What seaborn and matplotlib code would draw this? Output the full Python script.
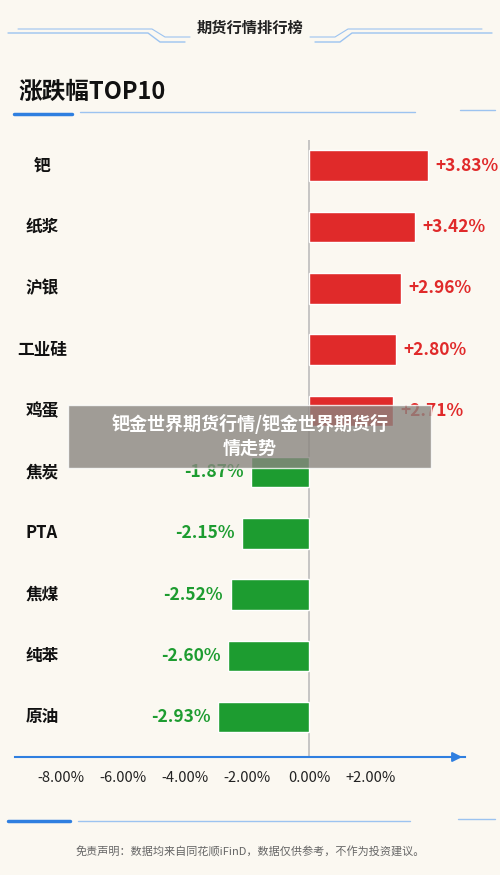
import matplotlib
matplotlib.use("Agg")
import matplotlib.pyplot as plt
import matplotlib.transforms as mt
import seaborn as sns
import pandas as pd

categories = ["钯", "纸浆", "沪银", "工业硅", "鸡蛋", "焦炭", "PTA", "焦煤", "纯苯", "原油"]
values = [3.83, 3.42, 2.96, 2.80, 2.71, -1.87, -2.15, -2.52, -2.60, -2.93]
tick_vals = [-8, -6, -4, -2, 0, 2]
tick_labels = ["-8.00%", "-6.00%", "-4.00%", "-2.00%", "0.00%", "+2.00%"]

sns.set_theme(style="white")
plt.rcParams['font.family'] = ['Noto Sans CJK SC', 'DejaVu Sans']
BG = "#fbf8f1"
RED = "#e02a2a"
GREEN = "#1d9c30"
BLUE = "#2f7fe0"

fig = plt.figure(figsize=(5, 8.75), dpi=100, facecolor=BG)
ax = fig.add_axes([15/500, (875-757)/875, 450/500, (757-140)/875])
ax.set_facecolor(BG)

df = pd.DataFrame({"cat": categories, "val": values})
df["sign"] = ["pos" if v > 0 else "neg" for v in values]
sns.barplot(data=df, y="cat", x="val", hue="sign", palette={"pos": RED, "neg": GREEN},
            orient="h", width=0.5, dodge=False, legend=False, ax=ax, saturation=1)

ax.set_xlim(-9.48, 5.03)
ax.set_ylim(9.65, -0.42)
ax.set_xlabel(""); ax.set_ylabel("")
ax.set_yticks([])
ax.set_xticks(tick_vals)
ax.set_xticklabels(tick_labels, fontsize=10.5, color="#222222")
ax.tick_params(axis="x", length=5, width=1.2, color=BLUE, direction="in", pad=10)
for s in ["top", "right", "left"]:
    ax.spines[s].set_visible(False)
ax.spines["bottom"].set_color(BLUE)
ax.spines["bottom"].set_linewidth(1.5)
ax.annotate("", xy=(1.0, 0), xytext=(0.97, 0), xycoords="axes fraction",
            arrowprops=dict(arrowstyle="-|>", color=BLUE, lw=1.5, mutation_scale=14))
ax.axvline(0, color="#bdbdbd", lw=1.2, zorder=0)

tr = mt.blended_transform_factory(fig.transFigure, ax.transData)
for i, (c, v) in enumerate(zip(categories, values)):
    ax.text(42/500, i, c, transform=tr, ha="center", va="center", fontsize=12,
            fontweight="bold", color="#111111")
    if v > 0:
        ax.text(v + 0.25, i, f"+{v:.2f}%", ha="left", va="center", fontsize=12.5,
                fontweight="bold", color=RED)
    else:
        ax.text(v - 0.25, i, f"{v:.2f}%", ha="right", va="center", fontsize=12.5,
                fontweight="bold", color=GREEN)

# header
fig.text(0.5, 1-28/875, "期货行情排行榜", ha="center", va="center", fontsize=11,
         fontweight="bold", color="#222222")
fig.text(18/500, 1-92/875, "涨跌幅TOP10", ha="left", va="center", fontsize=17,
         fontweight="bold", color="#111111")
LB = "#9cc3f0"
def fl(xs, ys, **kw):
    fig.add_artist(plt.Line2D([x/500 for x in xs], [1-y/875 for y in ys], **kw))
fl([8, 148, 160, 185], [33, 33, 42, 42], color=LB, lw=1)
fl([18, 152, 165, 190], [29, 29, 37, 37], color=LB, lw=0.8)
fl([492, 352, 340, 315], [33, 33, 42, 42], color=LB, lw=1)
fl([482, 348, 335, 310], [29, 29, 37, 37], color=LB, lw=0.8)
fl([14, 72], [114, 114], color=BLUE, lw=2.5)
fl([80, 415], [112, 112], color=LB, lw=1)
fl([460, 495], [110, 110], color=LB, lw=1)
fl([8, 70], [821, 821], color=BLUE, lw=2.5)
fl([78, 410], [821, 821], color=LB, lw=1)
fl([458, 495], [819, 819], color=LB, lw=1)
fig.text(0.5, 1-851/875, "免责声明：数据均来自同花顺iFinD，数据仅供参考，不作为投资建议。",
         ha="center", va="center", fontsize=8, color="#666666")

# watermark overlay
fig.patches.append(plt.Rectangle((68/500, 1-468/875), 363/500, 63/875,
                                 transform=fig.transFigure, facecolor="#8a8580",
                                 alpha=0.8, zorder=5))
fig.text(0.5, 1-436/875, "钯金世界期货行情/钯金世界期货行\n情走势", ha="center", va="center",
         fontsize=13, fontweight="bold", color="white", zorder=6, linespacing=1.3)

fig.savefig("out.png", dpi=100, facecolor=BG)
